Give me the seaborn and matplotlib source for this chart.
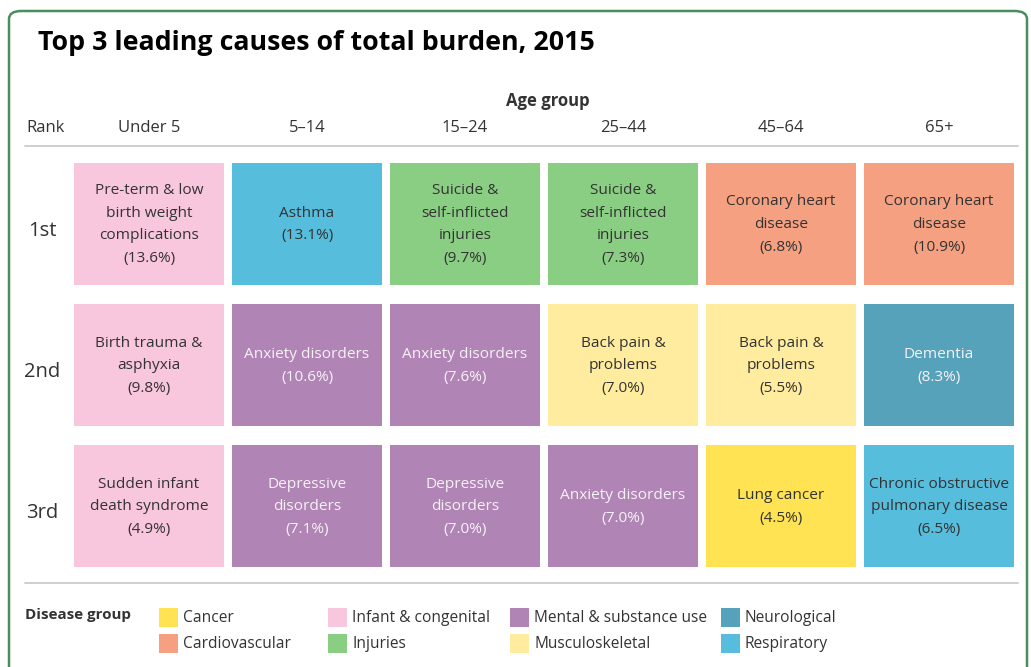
import matplotlib
matplotlib.use("Agg")
import matplotlib.pyplot as plt
from matplotlib.patches import Rectangle, FancyBboxPatch
from matplotlib.lines import Line2D
import seaborn as sns

# ---- data ----
age_groups = ["Under 5", "5\u201314", "15\u201324", "25\u201344", "45\u201364", "65+"]
ranks = ["1st", "2nd", "3rd"]

# one list per rank, ordered by age group
causes_1st = ["Pre-term & low\nbirth weight\ncomplications", "Asthma",
              "Suicide &\nself-inflicted\ninjuries", "Suicide &\nself-inflicted\ninjuries",
              "Coronary heart\ndisease", "Coronary heart\ndisease"]
causes_2nd = ["Birth trauma &\nasphyxia", "Anxiety disorders", "Anxiety disorders",
              "Back pain &\nproblems", "Back pain &\nproblems", "Dementia"]
causes_3rd = ["Sudden infant\ndeath syndrome", "Depressive\ndisorders", "Depressive\ndisorders",
              "Anxiety disorders", "Lung cancer", "Chronic obstructive\npulmonary disease"]

share_1st = [13.6, 13.1, 9.7, 7.3, 6.8, 10.9]
share_2nd = [9.8, 10.6, 7.6, 7.0, 5.5, 8.3]
share_3rd = [4.9, 7.1, 7.0, 7.0, 4.5, 6.5]

group_1st = ["Infant & congenital", "Respiratory", "Injuries", "Injuries",
             "Cardiovascular", "Cardiovascular"]
group_2nd = ["Infant & congenital", "Mental & substance use", "Mental & substance use",
             "Musculoskeletal", "Musculoskeletal", "Neurological"]
group_3rd = ["Infant & congenital", "Mental & substance use", "Mental & substance use",
             "Mental & substance use", "Cancer", "Respiratory"]

disease_groups = ["Cancer", "Cardiovascular", "Infant & congenital", "Injuries",
                  "Mental & substance use", "Musculoskeletal", "Neurological", "Respiratory"]
group_colors = ["#FFE352", "#F5A081", "#F8C6DD", "#8ACE84",
                "#B084B5", "#FFEC9F", "#56A2BB", "#57BDDD"]
light_text_groups = ["Mental & substance use", "Neurological"]

causes = [causes_1st, causes_2nd, causes_3rd]
shares = [share_1st, share_2nd, share_3rd]
groups = [group_1st, group_2nd, group_3rd]
palette = dict(zip(disease_groups, group_colors))

# ---- style ----
sns.set_theme(style="white")
plt.rcParams["font.family"] = ["Open Sans", "DejaVu Sans"]
dark = "#333333"

W, H = 1031, 667
fig = plt.figure(figsize=(W / 100, H / 100), dpi=100)


def fx(px):
    return px / W


def fy(py):
    return 1 - py / H


# tiles axes
ax = fig.add_axes([fx(70), fy(576.75), fx(1018) - fx(70), fy(153.25) - fy(576.75)])
for r, rank in enumerate(ranks):
    cols = [palette[g] for g in groups[r]]
    ax.bar(range(len(age_groups)), [0.862] * len(age_groups), bottom=r - 0.431,
           width=150 / 158, color=cols, linewidth=0)
    for c in range(len(age_groups)):
        tc = "#f7f2f7" if groups[r][c] in light_text_groups else dark
        ax.text(c, r + 0.005, f"{causes[r][c]}\n({shares[r][c]:.1f}%)", ha="center",
                va="center", fontsize=11.1, color=tc, linespacing=1.7)
ax.set_xlim(-0.5, len(age_groups) - 0.5)
ax.set_ylim(len(ranks) - 0.5, -0.5)
ax.axis("off")

# row labels
for r, rank in enumerate(ranks):
    ax.text(-0.5 - 28 / 158, r + 0.05, rank, ha="center", va="center", fontsize=14.5,
            color=dark)

# column headers
for c, ag in enumerate(age_groups):
    fig.text(fx(70 + 158 * c + 79), fy(128), ag, ha="center", va="center",
             fontsize=12, color=dark)
fig.text(fx(46), fy(128), "Rank", ha="center", va="center", fontsize=12, color=dark)
fig.text(fx(548), fy(101), "Age group", ha="center", va="center", fontsize=12,
         fontweight="bold", color=dark)

# title
fig.text(fx(38), fy(43), "Top 3 leading causes of total burden, 2015", ha="left",
         va="center", fontsize=19.3, fontweight="bold", color="black")

# separators
for yy in (146, 583):
    fig.add_artist(Line2D([fx(25), fx(1018)], [fy(yy), fy(yy)], color="#cccccc", lw=1.3))

# legend
fig.text(fx(25), fy(615), "Disease group", ha="left", va="center", fontsize=10.9,
         fontweight="bold", color=dark)
leg_x = [159, 328, 510, 721]
leg_y = [618, 644]
for i, (g, col) in enumerate(zip(disease_groups, group_colors)):
    x0 = leg_x[i // 2]
    y0 = leg_y[i % 2]
    fig.add_artist(Rectangle((fx(x0), fy(y0 + 9)), fx(19), 19 / H, color=col, lw=0))
    fig.text(fx(x0 + 24), fy(y0), g, ha="left", va="center", fontsize=11.2, color=dark)

# outer green frame
fig.add_artist(FancyBboxPatch((fx(9), fy(700)), fx(1018), fy(11) - fy(700),
                              boxstyle="round,pad=0,rounding_size=0.012",
                              transform=fig.transFigure, fill=False,
                              edgecolor="#4a8d5e", lw=1.8, clip_on=False))

fig.savefig("out.png", dpi=100)
